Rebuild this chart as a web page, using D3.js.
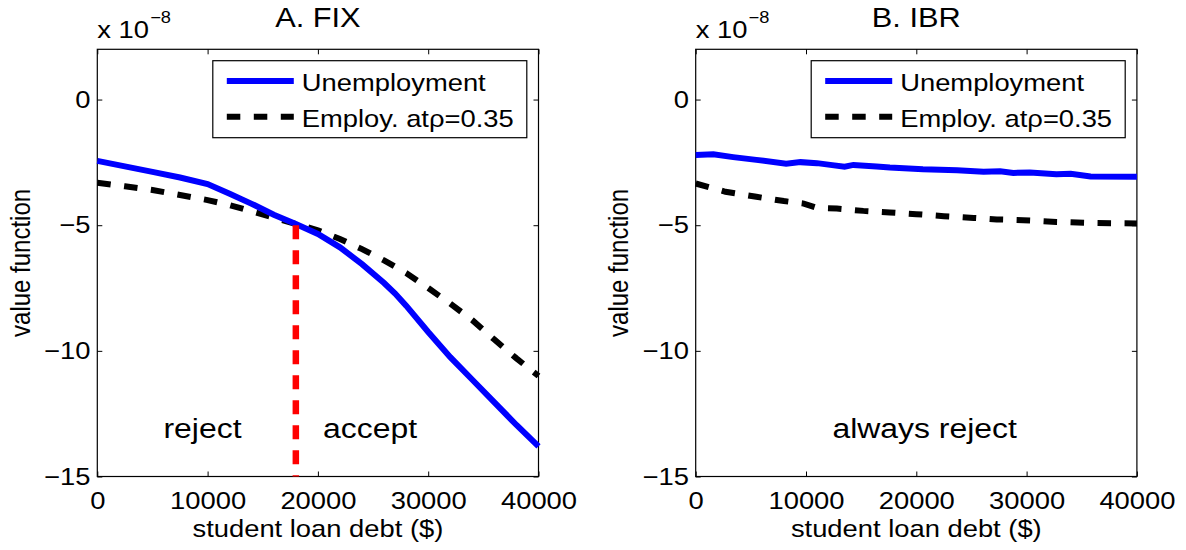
<!DOCTYPE html>
<html>
<head>
<meta charset="utf-8">
<script src="https://cdn.jsdelivr.net/npm/d3@7"></script>
<style>
  body { margin: 0; background: #fff; }
  svg { display: block; font-family: "Liberation Sans", Arial, sans-serif; }
</style>
</head>
<body>
<svg width="1186" height="550"></svg>
<script>
(function () {

  // ---- data (value function, units of 1e-8) ----
  var xTicks = [0, 10000, 20000, 30000, 40000]
  var yTicks = [-15, -10, -5, 0]
  var seriesNames = ['Unemployment', 'Employ. at\u03c1=0.35']

  // panel A: FIX
  var fixDebt = [0, 2500, 5000, 7500, 10000, 12000, 14000, 16000, 18000, 20000, 22000,
                 24000, 26000, 27000, 28000, 30000, 32000, 34000, 36000, 38000, 40000]
  var fixUnemp = [-2.44, -2.66, -2.88, -3.1, -3.36, -3.75, -4.15, -4.58, -4.95, -5.35, -5.88,
                  -6.55, -7.3, -7.72, -8.2, -9.25, -10.25, -11.15, -12.05, -12.95, -13.8]
  var fixEmp = [-3.31, -3.45, -3.6, -3.8, -4.0, -4.2, -4.45, -4.7, -4.95, -5.2, -5.55,
                -5.95, -6.4, -6.65, -6.9, -7.5, -8.12, -8.78, -9.55, -10.3, -11.0]
  var cutoffDebt = 18000

  // panel B: IBR
  var ibrUnempDebt = [0, 1600, 3400, 5500, 8200, 9500, 11000, 12200, 13500, 14300, 16400,
                      17600, 20600, 23700, 26100, 27600, 28800, 30300, 32700, 34000, 35800, 40000]
  var ibrUnemp = [-2.21, -2.18, -2.29, -2.40, -2.55, -2.49, -2.53, -2.60, -2.67, -2.60, -2.66,
                  -2.70, -2.77, -2.81, -2.87, -2.85, -2.92, -2.90, -2.97, -2.95, -3.06, -3.07]
  var ibrEmpDebt = [0, 2700, 5500, 8000, 9800, 11000, 12800, 15200, 17600, 20000, 22500,
                    25200, 27300, 29700, 32700, 35800, 40000]
  var ibrEmp = [-3.34, -3.67, -3.87, -4.04, -4.14, -4.31, -4.34, -4.43, -4.49, -4.56, -4.64,
                -4.71, -4.77, -4.80, -4.87, -4.91, -4.93]

  var panels = [
    { title: 'A. FIX', left: 97.3, unemp: d3.zip(fixDebt, fixUnemp), emp: d3.zip(fixDebt, fixEmp),
      notes: [['reject', 202.5], ['accept', 370]], cutoff: cutoffDebt },
    { title: 'B. IBR', left: 695.7, unemp: d3.zip(ibrUnempDebt, ibrUnemp), emp: d3.zip(ibrEmpDebt, ibrEmp),
      notes: [['always reject', 924.6]], cutoff: null }
  ]

  var SX = 1.14          // the picture is a little wider than tall
  var W = 441.2, top = 49.3, bottom = 476.5
  var svg = d3.select('svg')

  function label(g, x, y, str, size, anchor, rot) {
    return g.append('text')
      .attr('transform', 'translate(' + x + ',' + y + ') scale(' + SX + ',1)' + (rot ? ' rotate(' + rot + ')' : ''))
      .attr('text-anchor', anchor)
      .attr('font-size', size)
      .attr('fill', '#000')
      .text(str)
  }

  panels.forEach(function (p) {
    var x = d3.scaleLinear().domain([0, 40000]).range([p.left, p.left + W])
    var y = d3.scaleLinear().domain([-15, 2]).range([bottom, top])
    var g = svg.append('g')
    var mid = p.left + W / 2

    // axes, ticks pointing inwards on all four sides
    var fmt = function (d) { return d3.format('d')(d).replace('-', '\u2212') }
    var axes = [
      [d3.axisBottom(x).tickValues(xTicks).tickFormat(fmt).tickPadding(15), 'translate(0,' + bottom + ')'],
      [d3.axisTop(x).tickValues(xTicks).tickFormat(''), 'translate(0,' + top + ')'],
      [d3.axisLeft(y).tickValues(yTicks).tickFormat(fmt).tickPadding(6), 'translate(' + p.left + ',0)'],
      [d3.axisRight(y).tickValues(yTicks).tickFormat(''), 'translate(' + (p.left + W) + ',0)']
    ]
    axes.forEach(function (a) {
      var ax = g.append('g').attr('transform', a[1])
        .call(a[0].tickSizeInner(-5).tickSizeOuter(0))
      ax.select('.domain').remove()
      ax.selectAll('.tick line').attr('stroke', '#000')
      ax.selectAll('.tick text')
        .attr('font-size', 24)
        .attr('font-family', '"Liberation Sans", Arial, sans-serif')
        .attr('fill', '#000')
        .attr('transform', 'scale(' + SX + ',1)')
    })

    g.append('rect')
      .attr('x', x(0)).attr('y', y(2))
      .attr('width', x(40000) - x(0)).attr('height', y(-15) - y(2))
      .attr('fill', 'none').attr('stroke', '#000').attr('stroke-width', 1.2)

    var line = d3.line().x(function (d) { return x(d[0]) }).y(function (d) { return y(d[1]) })

    g.append('path').datum(p.emp).attr('d', line)
      .attr('fill', 'none').attr('stroke', '#000').attr('stroke-width', 6)
      .attr('stroke-dasharray', '13.5,13.5')
    g.append('path').datum(p.unemp).attr('d', line)
      .attr('fill', 'none').attr('stroke', '#0000ff').attr('stroke-width', 6)

    if (p.cutoff !== null) {
      g.append('line')
        .attr('x1', x(p.cutoff)).attr('x2', x(p.cutoff))
        .attr('y1', y(-5)).attr('y2', y(-15))
        .attr('stroke', '#ff0000').attr('stroke-width', 6.5)
        .attr('stroke-dasharray', '14,11')
    }

    // legend
    var lx = p.left + W - 11.7 - 314, ly = 60.7
    g.append('rect').attr('x', lx).attr('y', ly).attr('width', 314).attr('height', 77)
      .attr('fill', '#fff').attr('stroke', '#000').attr('stroke-width', 1.2)
    var rows = [
      { name: seriesNames[0], color: '#0000ff', dash: null, cy: 81, base: 90.7 },
      { name: seriesNames[1], color: '#000', dash: '13.5,13.5', cy: 116.7, base: 126.5 }
    ]
    rows.forEach(function (r) {
      g.append('line').attr('x1', lx + 14).attr('x2', lx + 81)
        .attr('y1', r.cy).attr('y2', r.cy)
        .attr('stroke', r.color).attr('stroke-width', 6)
        .attr('stroke-dasharray', r.dash)
      label(g, lx + 89, r.base, r.name, 24, 'start')
    })

    // titles and labels
    label(g, mid, 26.7, p.title, 27, 'middle')
    var ex = label(g, p.left, 38.3, 'x 10', 24, 'start')
    ex.append('tspan').attr('dy', -15).attr('dx', 1).attr('font-size', 16).text('\u22128')
    label(g, mid, 536.7, 'student loan debt ($)', 24, 'middle')
    label(g, p.left - 67.3, (top + bottom) / 2, 'value function', 24, 'middle', -90)

    p.notes.forEach(function (n) {
      label(g, n[1], 437.5, n[0], 28, 'middle')
    })
  })
})()
</script>
</body>
</html>
